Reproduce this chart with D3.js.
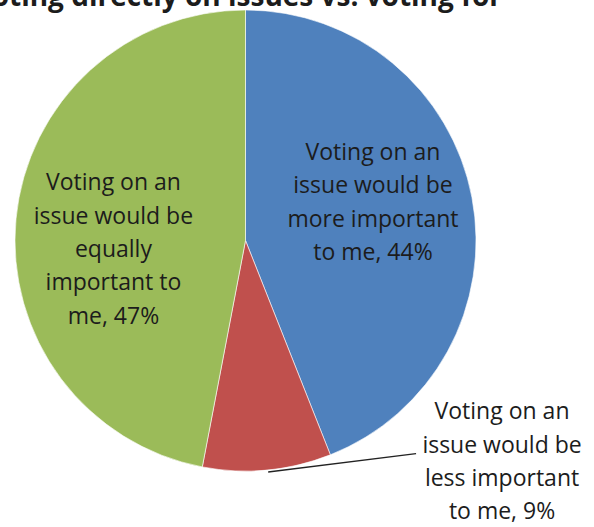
<!DOCTYPE html>
<html>
<head>
<meta charset="utf-8">
<script src="https://cdn.jsdelivr.net/npm/d3@7"></script>
<style>
  html, body { margin: 0; padding: 0; background: #fff; }
  svg { display: block; }
  text { font-family: "Open Sans", Lato, sans-serif; fill: #1c1c1c; }
</style>
</head>
<body>
<svg id="chart" width="594" height="527"></svg>
<script>
// Survey answers, in drawing order (clockwise from 12 o'clock)
const answers = ["more important", "less important", "equally important"];
const shares = [44, 9, 47];
const colors = ["#4F81BD", "#C0504D", "#9BBB59"];
const labelLines = [
  ["Voting on an", "issue would be", "more important", "to me, 44%"],
  ["Voting on an", "issue would be", "less important", "to me, 9%"],
  ["Voting on an", "issue would be", "equally", "important to", "me, 47%"]
];
const titleText = "Voting directly on issues vs. voting for";

const svg = d3.select("#chart");
const cx = 245.5, cy = 240.5, R = 230.5;

const pie = d3.pie().sort(null).value(d => d)(shares);
const arc = d3.arc().innerRadius(0).outerRadius(R);

const g = svg.append("g").attr("transform", `translate(${cx},${cy})`);

g.selectAll("path.slice")
  .data(pie)
  .join("path")
  .attr("class", "slice")
  .attr("d", arc)
  .attr("fill", (d, i) => colors[i])
  .attr("stroke", "#ffffff")
  .attr("stroke-width", 0.6);

// Label placement (center of each text block, relative to pie center, in radius units)
const labelPos = [
  { dx: 0.553, dy: -0.167 },
  { dx: 1.113, dy: 0.958 },
  { dx: -0.573, dy: 0.037 }
];
const lineGap = 33.3;
const fontSize = 23;

function lineY(i, k) {
  const n = labelLines[i].length;
  return labelPos[i].dy * R + (k - (n - 1) / 2) * lineGap;
}

// Leader from the small slice to its outside label
const leaderStart = d3.arc().innerRadius(R).outerRadius(R).centroid(pie[1]);
g.append("line")
  .attr("x1", leaderStart[0] + 1)
  .attr("y1", leaderStart[1] + 2)
  .attr("x2", labelPos[1].dx * R - 86)
  .attr("y2", lineY(1, 1) + 9)
  .attr("stroke", "#222")
  .attr("stroke-width", 1.4);

labelLines.forEach((lines, i) => {
  const x = labelPos[i].dx * R;
  const t = g.append("text")
    .attr("text-anchor", "middle")
    .attr("font-size", fontSize);
  lines.forEach((ln, k) => {
    t.append("tspan")
      .attr("x", x)
      .attr("y", lineY(i, k))
      .attr("dy", "0.35em")
      .text(ln);
  });
});

// Chart title (partly above the visible area)
svg.append("text")
  .attr("x", 502)
  .attr("y", 6)
  .attr("text-anchor", "end")
  .attr("font-size", 28)
  .attr("font-weight", "bold")
  .attr("fill", "#000")
  .text(titleText);
</script>
</body>
</html>
